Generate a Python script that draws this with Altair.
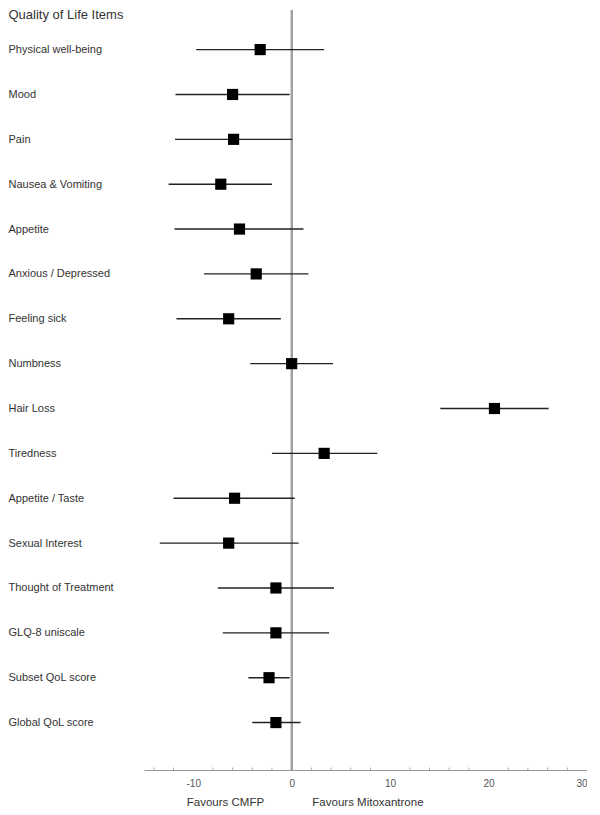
import altair as alt
import pandas as pd

items = [
    "Physical well-being", "Mood", "Pain", "Nausea & Vomiting", "Appetite",
    "Anxious / Depressed", "Feeling sick", "Numbness", "Hair Loss", "Tiredness",
    "Appetite / Taste", "Sexual Interest", "Thought of Treatment", "GLQ-8 uniscale",
    "Subset QoL score", "Global QoL score",
]
estimate = [-3.2, -6.0, -5.9, -7.2, -5.3, -3.6, -6.4, 0.0, 20.6, 3.3, -5.8, -6.4, -1.6, -1.6, -2.3, -1.6]
lower = [-9.7, -11.8, -11.85, -12.5, -11.9, -8.9, -11.7, -4.2, 15.1, -2.0, -12.0, -13.4, -7.5, -7.0, -4.4, -4.0]
upper = [3.3, -0.2, 0.05, -2.0, 1.2, 1.7, -1.1, 4.2, 26.1, 8.7, 0.3, 0.7, 4.3, 3.8, -0.2, 0.9]
x_labels = [-10, 0, 10, 20, 30]
x_minor = [-14, -12, -8, -6, -4, -2, 2, 4, 6, 8, 12, 14, 16, 18, 22, 24, 26, 28]
favours_left = ["Favours CMFP"]
favours_right = ["Favours Mitoxantrone"]
chart_title = "Quality of Life Items"

df = pd.DataFrame({"item": items, "est": estimate, "lo": lower, "hi": upper})

FONT = "Liberation Sans"
W, H = 443, 760
LP = 136

x_scale = alt.Scale(domain=[-15, 30], nice=False, zero=False)
y_scale = alt.Scale(type="point", domain=items, padding=0.97, align=0.455)

x_axis = alt.Axis(
    title=None, values=x_labels,
    labelExpr="datum.value < 0 ? '-' + abs(datum.value) : '' + datum.value",
    labelOverlap=False, ticks=False, tickSize=0,
    domainColor="#999999", domainWidth=1,
    labelColor="#555555", labelFontSize=10, labelFont=FONT, labelPadding=8, grid=False,
)
y_axis = alt.Axis(
    title=chart_title, titleAngle=0, titleAlign="left", titleBaseline="top",
    titleX=-LP, titleY=-2, titleFont=FONT, titleFontSize=13, titleFontWeight="normal",
    titleColor="#333333",
    labelAlign="left", labelBaseline="middle", labelPadding=LP, labelFontSize=11,
    labelFont=FONT, labelColor="#333333", labelLimit=0,
    ticks=False, tickSize=0, domain=False, grid=False,
)

base = alt.Chart(df)

zero_line = base.mark_rule(color="#a0a0a0", strokeWidth=1.4).encode(
    x=alt.datum(0, scale=x_scale, axis=x_axis)
)

minor = alt.Chart(pd.DataFrame({"v": x_minor})).mark_rule(
    color="#aaaaaa", strokeWidth=1
).encode(
    x=alt.X("v:Q", scale=x_scale, axis=x_axis),
    y=alt.value(H - 2.5), y2=alt.value(H),
)

bars = base.mark_rule(color="#222222", strokeWidth=1.4).encode(
    x=alt.X("lo:Q", scale=x_scale, axis=x_axis),
    x2="hi:Q",
    y=alt.Y("item:N", scale=y_scale, sort=items, axis=y_axis),
)

squares = base.mark_square(size=125, color="black", opacity=1, filled=True).encode(
    x=alt.X("est:Q", scale=x_scale, axis=x_axis),
    y=alt.Y("item:N", scale=y_scale, sort=items, axis=y_axis),
)

txt_left = alt.Chart(pd.DataFrame({"t": favours_left})).mark_text(
    align="right", baseline="middle", fontSize=11.5, font=FONT, color="#333333"
).encode(x=alt.datum(-2.8), y=alt.value(H + 33), text="t:N")

txt_right = alt.Chart(pd.DataFrame({"t": favours_right})).mark_text(
    align="left", baseline="middle", fontSize=11.5, font=FONT, color="#333333"
).encode(x=alt.datum(2.1), y=alt.value(H + 33), text="t:N")

chart = alt.layer(zero_line, minor, bars, squares, txt_left, txt_right).properties(
    width=W, height=H, padding=0
).configure_view(stroke=None)

chart.save("out.html", embed_options={"renderer": "svg", "actions": False})
